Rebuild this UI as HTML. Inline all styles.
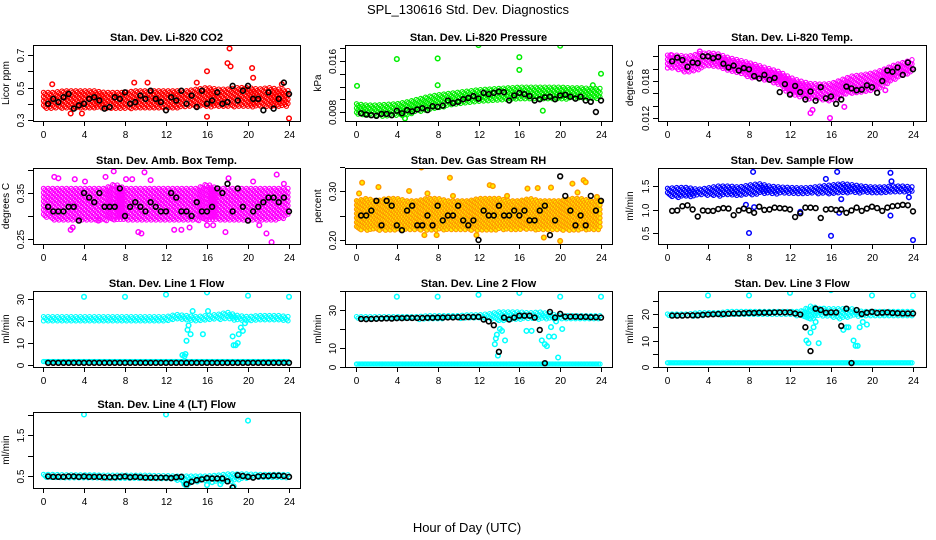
<!DOCTYPE html>
<html><head><meta charset="utf-8"><style>
html,body{margin:0;padding:0;background:#fff;}
svg{display:block;font-family:"Liberation Sans",sans-serif;}
</style></head><body>
<svg id="chart" width="936" height="540" viewBox="0 0 936 540">
<rect x="0" y="0" width="936" height="540" fill="#fff"/>
<text x="468" y="14" text-anchor="middle" font-size="13">SPL_130616  Std. Dev. Diagnostics</text>
<text x="467" y="532" text-anchor="middle" font-size="13">Hour of Day (UTC)</text>
</svg>
<script>
// ---------- data ----------
const hourTicks = [0,4,8,12,16,20,24];
const bandHours = [0,1,2,3,4,5,6,7,8,9,10,11,12,13,14,15,16,17,18,19,20,21,22,23,24];
const blackHours = [0.5,1,1.5,2,2.5,3,3.5,4,4.5,5,5.5,6,6.5,7,7.5,8,8.5,9,9.5,10,10.5,11,11.5,12,12.5,13,13.5,14,14.5,15,15.5,16,16.5,17,17.5,18,18.5,19,19.5,20,20.5,21,21.5,22,22.5,23,23.5,24];

// CO2
const co2Lo = [0.37,0.37,0.37,0.37,0.37,0.37,0.37,0.37,0.37,0.37,0.37,0.37,0.37,0.37,0.38,0.38,0.38,0.38,0.38,0.38,0.38,0.38,0.38,0.38,0.38];
const co2Hi = [0.47,0.47,0.48,0.48,0.48,0.48,0.47,0.47,0.47,0.48,0.48,0.48,0.48,0.48,0.48,0.49,0.50,0.49,0.49,0.50,0.50,0.49,0.50,0.49,0.48];
const co2OutX = [18.2,18.0,18.3,16.0,20.4,20.5,16.0,24.0,2.7,15.0,0.9,8.9,10.2,23.3,3.8];
const co2OutY = [0.74,0.65,0.63,0.60,0.62,0.56,0.32,0.31,0.34,0.53,0.52,0.53,0.53,0.52,0.34];
const co2Black = [0.40,0.43,0.41,0.44,0.46,0.37,0.39,0.40,0.43,0.44,0.42,0.37,0.38,0.44,0.43,0.47,0.40,0.41,0.45,0.43,0.48,0.43,0.41,0.36,0.44,0.42,0.48,0.40,0.45,0.38,0.48,0.40,0.42,0.47,0.40,0.41,0.51,0.42,0.48,0.51,0.43,0.43,0.36,0.47,0.37,0.43,0.53,0.46];
// Pressure
const presLo = [0.0077,0.0075,0.0074,0.0073,0.0073,0.0074,0.0080,0.0083,0.0086,0.0089,0.0092,0.0094,0.0096,0.0097,0.0098,0.0099,0.0100,0.0100,0.0100,0.0100,0.0100,0.0100,0.0100,0.0100,0.0100];
const presHi = [0.0093,0.0091,0.0091,0.0092,0.0093,0.0096,0.0100,0.0104,0.0107,0.0109,0.0111,0.0113,0.0115,0.0116,0.0117,0.0118,0.0119,0.0119,0.0119,0.0119,0.0119,0.0118,0.0118,0.0117,0.0117];
const presOutX = [0.1,4.0,8.0,8.0,12.0,16.0,16.0,20.0,24.0,23.2,4.8,18.3];
const presOutY = [0.0121,0.0163,0.0164,0.0122,0.0185,0.0166,0.0146,0.0184,0.0140,0.0122,0.0070,0.0082];
const presBlack = [0.0078,0.0076,0.0075,0.0074,0.0077,0.0077,0.0075,0.0082,0.0078,0.0083,0.0081,0.0084,0.0086,0.0083,0.0089,0.0088,0.0090,0.0098,0.0094,0.0096,0.0100,0.0102,0.0105,0.0101,0.0110,0.0108,0.0110,0.0112,0.0111,0.0098,0.0106,0.0110,0.0108,0.0105,0.0098,0.0100,0.0103,0.0104,0.0100,0.0106,0.0107,0.0104,0.0101,0.0104,0.0098,0.0096,0.0080,0.0098];
// Li-820 temp
const tempLo = [0.0200,0.0198,0.0193,0.0197,0.0205,0.0203,0.0197,0.0192,0.0186,0.0183,0.0180,0.0172,0.0158,0.0153,0.0150,0.0150,0.0146,0.0155,0.0160,0.0161,0.0163,0.0170,0.0180,0.0188,0.0195];
const tempHi = [0.0222,0.0222,0.0220,0.0224,0.0226,0.0224,0.0218,0.0214,0.0210,0.0205,0.0200,0.0195,0.0186,0.0180,0.0176,0.0175,0.0176,0.0182,0.0188,0.0190,0.0193,0.0198,0.0205,0.0210,0.0215];
const tempOutX = [14.0,14.2,15.9,17.3,21.3,0.4,3.2];
const tempOutY = [0.0128,0.0133,0.0120,0.0138,0.0165,0.0222,0.0228];
const tempBlack = [0.0212,0.0218,0.0214,0.0203,0.0210,0.0209,0.0220,0.0220,0.0217,0.0219,0.0208,0.0202,0.0205,0.0197,0.0201,0.0199,0.0188,0.0184,0.0190,0.0182,0.0185,0.0162,0.0175,0.0158,0.0172,0.0162,0.0150,0.0163,0.0148,0.0170,0.0152,0.0155,0.0143,0.0150,0.0171,0.0168,0.0165,0.0166,0.0173,0.0170,0.0161,0.0180,0.0197,0.0195,0.0202,0.0190,0.0210,0.0199];
// Amb box temp
const ambLo = [0.30,0.29,0.29,0.29,0.29,0.29,0.29,0.29,0.29,0.29,0.29,0.29,0.29,0.29,0.29,0.29,0.29,0.29,0.29,0.29,0.29,0.29,0.29,0.29,0.30];
const ambHi = [0.36,0.36,0.36,0.36,0.36,0.36,0.36,0.37,0.36,0.36,0.36,0.36,0.36,0.36,0.36,0.36,0.37,0.36,0.36,0.36,0.36,0.36,0.36,0.36,0.36];
const ambOutX = [1.1,1.5,2.7,2.9,4.1,6.1,6.9,8.1,8.7,9.3,9.6,9.9,10.5,12.8,14.3,16.0,16.6,17.8,18.1,20.5,21.1,21.8,22.3,22.8,23.5,3.1,13.5,5.4];
const ambOutY = [0.385,0.382,0.27,0.275,0.375,0.385,0.397,0.38,0.38,0.265,0.262,0.395,0.378,0.27,0.275,0.28,0.28,0.265,0.382,0.375,0.28,0.262,0.243,0.39,0.37,0.38,0.27,0.29];
const ambBlack = [0.32,0.31,0.31,0.31,0.32,0.32,0.29,0.35,0.34,0.33,0.35,0.32,0.32,0.32,0.36,0.30,0.32,0.33,0.32,0.31,0.33,0.32,0.31,0.31,0.35,0.34,0.31,0.31,0.30,0.33,0.31,0.31,0.32,0.36,0.35,0.37,0.31,0.36,0.32,0.29,0.31,0.32,0.33,0.34,0.34,0.33,0.34,0.31];
// Gas RH
const rhLo = [0.22,0.22,0.22,0.22,0.22,0.22,0.22,0.22,0.22,0.22,0.22,0.22,0.22,0.22,0.22,0.22,0.22,0.22,0.22,0.22,0.22,0.22,0.22,0.22,0.22];
const rhHi = [0.28,0.285,0.28,0.285,0.285,0.28,0.28,0.285,0.285,0.28,0.28,0.28,0.285,0.285,0.285,0.28,0.28,0.285,0.28,0.28,0.28,0.285,0.285,0.28,0.28];
const rhOutX = [0.3,0.6,2.2,6.4,6.7,7.0,9.2,9.5,13.1,13.4,14.8,16.8,17.8,19.1,18.4,20.0,21.2,21.7,22.3,22.5,23.6,7.9,11.8,5.2];
const rhOutY = [0.295,0.317,0.308,0.348,0.21,0.295,0.327,0.29,0.312,0.31,0.29,0.305,0.306,0.307,0.205,0.198,0.315,0.297,0.322,0.318,0.288,0.21,0.21,0.30];
const rhBlack = [0.25,0.25,0.26,0.28,0.23,0.28,0.27,0.23,0.22,0.26,0.27,0.23,0.23,0.25,0.23,0.27,0.24,0.25,0.25,0.27,0.24,0.23,0.24,0.20,0.26,0.25,0.25,0.27,0.25,0.25,0.26,0.25,0.26,0.24,0.24,0.26,0.27,0.21,0.24,0.33,0.29,0.26,0.23,0.25,0.23,0.29,0.26,0.28];
// Sample flow
const sfLo = [1.30,1.25,1.27,1.28,1.30,1.28,1.30,1.30,1.30,1.33,1.33,1.33,1.32,1.33,1.33,1.33,1.33,1.35,1.35,1.35,1.35,1.35,1.35,1.35,1.35];
const sfHi = [1.45,1.47,1.47,1.43,1.46,1.50,1.50,1.48,1.52,1.55,1.50,1.48,1.47,1.46,1.47,1.50,1.52,1.55,1.53,1.50,1.48,1.48,1.50,1.50,1.48];
const sfOutX = [8.0,8.4,8.5,7.7,13.0,16.0,16.6,16.8,17.0,21.8,21.8,21.9,24.0,15.5,23.6];
const sfOutY = [0.50,1.80,1.05,1.10,0.95,0.44,1.80,0.93,1.22,1.78,0.87,1.60,0.35,1.65,1.26];
const sfBlack = [0.97,0.98,1.07,1.09,1.00,0.85,0.98,0.97,0.97,1.01,1.03,1.02,0.88,0.98,1.02,0.98,0.93,1.06,0.99,1.00,1.04,1.03,1.02,1.00,0.84,0.92,1.04,1.04,1.03,0.82,1.00,1.01,0.99,1.00,0.93,0.98,1.04,0.97,1.02,1.06,1.03,0.97,1.04,1.07,1.08,1.10,1.09,0.96];
// Line 1
const l1Lo = [20,20,20,20,20,20,20,20,20,20,20,20,20,20.5,20,20,20,20.5,21,20,20,20,20,20,20];
const l1Hi = [22,22,22,22,22,22,22,22,22,22,22,22,22,23,22.5,22,22.5,23,24,22.5,22,22.5,22.5,22.5,22];
const l1OutX = [4,8,12,16,20,24,13.6,13.8,13.9,14.0,14.1,14.2,14.4,14.6,15.6,16.1,18.5,18.6,18.8,19.0,19.1,19.3,19.5,19.7];
const l1OutY = [31,31,32,33,31.5,31,4.5,4,5,11,16,18,14,24.5,14,24.5,13,9,9,10,14,17,15.5,19];
const l1Black = [1,1,1,1,1,1,1,1,1,1,1,1,1,1,1,1,1,1,1,1,1,1,1,1,1,1,1,1,1,1,1,1,1,1,1,1,1,1,1,1,1,1,1,1,1,1,1,1];
// Line 2
const l2Lo = [25,25,25,25,25,25,25,25,25,25.5,25.5,25.5,25.5,25.5,24,25,25,25,25,25,25,25,25,25,25];
const l2Hi = [26.5,26.5,26.5,26.5,26.5,26.5,26.5,27,27,27,27,27.5,27.5,28,29,29,29,28.5,29,28,27,27,27,27,27];
const l2OutX = [4,8,12,16,20,24,13.6,13.7,13.8,13.9,14.1,14.3,14.6,15.4,16.7,17.2,18.2,18.5,18.7,18.9,19.1,19.4,19.6,19.8,20.2];
const l2OutY = [37,37,38,39,37,37,12,15,17,6,20,19,14,26,19,19,14,12,11,16,21,16,24,5,20];
const l2Black = [25.3,25.2,25.3,25.4,25.5,25.6,25.5,25.7,25.7,25.8,25.8,25.8,25.8,25.9,25.9,26,26,26.1,26.1,26.2,26.2,26.3,26.3,26.4,25,24,22,8,26,25,26,27,27,27,26,19.5,2,29,26,28,26.5,26.5,26.5,26.4,26.4,26.2,26.2,26];
// Line 3
const l3Lo = [19,19,19,19,19.5,19.5,19.5,19.5,19.5,19.5,19.5,19.5,19.5,19,18,19,19,18,19,19,19,19,19,19,19];
const l3Hi = [20,20,20,20.5,20.5,20.5,21,21,21,21,21,21,21,21,23,22,22,22,22,21,21,21,21,21,21];
const l3OutX = [4,8,12,16,20,24,13.6,13.8,14.0,14.3,14.5,14.8,15.3,17.2,17.5,17.7,18.2,18.4,18.6,18.8,19.1,19.5];
const l3OutY = [27,27,28,29,27,27,10,9,13,15,17,9,22,14,15,15,10,8,8,15,17,16];
const l3Black = [19.4,19.4,19.4,19.5,19.5,19.5,19.7,19.8,19.9,20,20,20.1,20.2,20.2,20.3,20.4,20.4,20.5,20.5,20.5,20.6,20.6,20.6,20.6,20.2,19.8,15,6,22,21.5,20.5,20.6,20.6,15.5,22,1.5,21.5,20,20.5,20.8,20.4,20.5,20.6,20.4,20.3,20.2,20.2,20.2];
// Line 4
const l4Lo = [0.45,0.45,0.45,0.45,0.45,0.45,0.44,0.44,0.44,0.44,0.44,0.43,0.43,0.40,0.30,0.35,0.38,0.35,0.35,0.40,0.45,0.45,0.45,0.45,0.45];
const l4Hi = [0.54,0.54,0.53,0.53,0.53,0.53,0.52,0.52,0.52,0.52,0.52,0.51,0.51,0.50,0.50,0.50,0.50,0.52,0.55,0.55,0.55,0.54,0.54,0.54,0.53];
const l4OutX = [4,12,20,13.8,14.0,16.0,16.5,17.3,18.6];
const l4OutY = [2.0,2.0,1.85,0.30,0.25,0.28,0.35,0.30,0.25];
const l4Black = [0.49,0.48,0.48,0.48,0.49,0.49,0.48,0.49,0.48,0.48,0.48,0.47,0.47,0.47,0.48,0.49,0.47,0.48,0.47,0.46,0.46,0.46,0.46,0.46,0.45,0.47,0.48,0.30,0.36,0.40,0.42,0.45,0.44,0.44,0.44,0.37,0.22,0.52,0.50,0.48,0.46,0.49,0.50,0.50,0.51,0.51,0.50,0.48];

// ---------- layout ----------
const NS = "http://www.w3.org/2000/svg";
const svg = document.getElementById('chart');
const cols = [{left:33,right:300,x0:43,x24:289,ylab:9},{left:345,right:612,x0:356,x24:601,ylab:321},{left:658,right:926,x0:667,x24:913,ylab:633}];
const rows = [45,168,291,412];
const panels = [
 {name:'co2',title:'Stan. Dev. Li-820 CO2',yl:'Licor ppm',c:0,r:0,v1:0.3,p1:120,v2:0.7,p2:55,ticks:[0.3,0.4,0.5,0.6,0.7],labels:['0.3','','0.5','','0.7'],col:'#ff0000',lo:co2Lo,hi:co2Hi,ox:co2OutX,oy:co2OutY,bk:co2Black},
 {name:'pressure',title:'Stan. Dev. Li-820 Pressure',yl:'kPa',c:1,r:0,v1:0.008,p1:112,v2:0.016,p2:61,ticks:[0.006,0.008,0.010,0.012,0.014,0.016,0.018],labels:['','0.008','','','','0.016',''],col:'#00ee00',lo:presLo,hi:presHi,ox:presOutX,oy:presOutY,bk:presBlack},
 {name:'li820-temp',title:'Stan. Dev. Li-820 Temp.',yl:'degrees C',c:2,r:0,v1:0.012,p1:118,v2:0.018,p2:81,ticks:[0.012,0.014,0.016,0.018,0.020,0.022],labels:['0.012','','','0.018','',''],col:'#ff00ff',lo:tempLo,hi:tempHi,ox:tempOutX,oy:tempOutY,bk:tempBlack},
 {name:'amb-box-temp',title:'Stan. Dev. Amb. Box Temp.',yl:'degrees C',c:0,r:1,v1:0.25,p1:239,v2:0.35,p2:193,ticks:[0.25,0.30,0.35,0.40],labels:['0.25','','0.35',''],col:'#ff00ff',lo:ambLo,hi:ambHi,ox:ambOutX,oy:ambOutY,bk:ambBlack},
 {name:'gas-rh',title:'Stan. Dev. Gas Stream RH',yl:'percent',c:1,r:1,v1:0.20,p1:240,v2:0.30,p2:191,ticks:[0.20,0.25,0.30,0.35],labels:['0.20','','0.30',''],col:'#ff9900',fill:'#ffee00',lo:rhLo,hi:rhHi,ox:rhOutX,oy:rhOutY,bk:rhBlack},
 {name:'sample-flow',title:'Stan. Dev. Sample Flow',yl:'ml/min',c:2,r:1,v1:0.5,p1:233,v2:1.5,p2:186,ticks:[0.5,1.0,1.5],labels:['0.5','1.0','1.5'],col:'#0000ff',lo:sfLo,hi:sfHi,ox:sfOutX,oy:sfOutY,bk:sfBlack},
 {name:'line1-flow',title:'Stan. Dev. Line 1 Flow',yl:'ml/min',c:0,r:2,v1:0,p1:365,v2:30,p2:299,ticks:[0,10,20,30],labels:['0','10','20','30'],col:'#00ffff',lo:l1Lo,hi:l1Hi,ox:l1OutX,oy:l1OutY,bk:l1Black,base:true},
 {name:'line2-flow',title:'Stan. Dev. Line 2 Flow',yl:'ml/min',c:1,r:2,v1:0,p1:367,v2:30,p2:310,ticks:[0,10,20,30,40],labels:['0','10','','30',''],col:'#00ffff',lo:l2Lo,hi:l2Hi,ox:l2OutX,oy:l2OutY,bk:l2Black,base:true},
 {name:'line3-flow',title:'Stan. Dev. Line 3 Flow',yl:'ml/min',c:2,r:2,v1:0,p1:367,v2:20,p2:314,ticks:[0,5,10,15,20,25],labels:['0','','10','','20',''],col:'#00ffff',lo:l3Lo,hi:l3Hi,ox:l3OutX,oy:l3OutY,bk:l3Black,base:true},
 {name:'line4-flow',title:'Stan. Dev. Line 4 (LT) Flow',yl:'ml/min',c:0,r:3,v1:0.5,p1:476,v2:1.5,p2:435,ticks:[0.5,1.0,1.5,2.0],labels:['0.5','','1.5',''],col:'#00ffff',lo:l4Lo,hi:l4Hi,ox:l4OutX,oy:l4OutY,bk:l4Black}
];
const baseLo = 0.4, baseHi = 1.6;

function mk(tag, attrs, parent){
  const e = document.createElementNS(NS, tag);
  for (const k in attrs) e.setAttribute(k, attrs[k]);
  parent.appendChild(e);
  return e;
}
function interp(arr, h){
  const i = Math.min(23, Math.floor(h));
  const f = h - i;
  return arr[i]*(1-f) + arr[i+1]*f;
}

panels.forEach(p => {
  const C = cols[p.c], top = rows[p.r], bot = top + 76;
  const xs = h => C.x0 + (C.x24 - C.x0) * h / 24;
  const ys = v => p.p1 + (v - p.v1) * (p.p2 - p.p1) / (p.v2 - p.v1);
  const g = mk('g', {}, svg);
  
  
  const clip = mk('clipPath', {id: 'clip-' + p.name}, g);
  mk('rect', {x: C.left, y: top, width: C.right - C.left, height: bot - top}, clip);
  const marks = mk('g', {'clip-path': 'url(#clip-' + p.name + ')'}, g);
  
  
  const fillc = p.fill || 'none';
  const stroke = p.col;
  const cloud = mk('g', {fill: fillc, stroke: stroke, 'stroke-width': 1.1}, marks);
  
  
  let k = 0;
  for (let h = 0.05; h <= 24; h += 0.15) {
    const ya = ys(interp(p.lo, h)), yb = ys(interp(p.hi, h));
    const y1 = Math.min(ya, yb), y2 = Math.max(ya, yb);
    const off = (k % 3) * 1.5;
    for (let y = y1 + off; y <= y2; y += 4.3) {
      mk('circle', {cx: xs(h).toFixed(1), cy: y.toFixed(1), r: 2.1}, cloud);
    }
    if (p.base) {
      const b1 = ys(baseHi), b2 = ys(baseLo);
      for (let y = b1; y <= b2; y += 3.5) mk('circle', {cx: xs(h).toFixed(1), cy: y.toFixed(1), r: 2.1}, cloud);
    }
    k++;
  }
  p.ox.forEach((h, i) => {
    const c = mk('circle', {cx: xs(h), cy: ys(p.oy[i]), r: 2.3, fill: fillc, stroke: stroke, 'stroke-width': 1.5}, marks);
    
    
  });
  p.bk.forEach((v, i) => {
    const c = mk('circle', {cx: xs(blackHours[i]), cy: ys(v), r: 2.4, fill: 'none', stroke: '#000', 'stroke-width': 1.6}, marks);
    
    
  });
  const fr = mk('rect', {x: C.left + 0.5, y: top + 0.5, width: C.right - C.left, height: bot - top, fill: 'none', stroke: '#000', 'stroke-width': 1}, g);
  
  
  hourTicks.forEach(h => {
    const x = Math.round(xs(h)) + 0.5;
    mk('line', {x1: x, x2: x, y1: bot, y2: bot + 5, stroke: '#000'}, g);
    const t = mk('text', {x: x, y: bot + 17, 'text-anchor': 'middle', 'font-size': 10}, g);
    t.textContent = h;
    
    
  });
  p.ticks.forEach((v, i) => {
    const y = Math.round(ys(v)) + 0.5;
    if (y < top - 1 || y > bot + 2) return;
    mk('line', {x1: C.left - 5, x2: C.left, y1: y, y2: y, stroke: '#000'}, g);
    if (p.labels[i]) {
      const tx = C.left - 9;
      const t = mk('text', {x: tx, y: y, 'text-anchor': 'middle', 'font-size': 10, transform: 'rotate(-90 ' + tx + ' ' + y + ')'}, g);
      t.textContent = p.labels[i];
      
      
    }
  });
  const my = (top + bot) / 2;
  const yl = mk('text', {x: C.ylab, y: my, 'text-anchor': 'middle', 'font-size': 10, transform: 'rotate(-90 ' + C.ylab + ' ' + my + ')'}, g);
  yl.textContent = p.yl;
  
  
  const tt = mk('text', {x: (C.left + C.right) / 2, y: top - 4, 'text-anchor': 'middle', 'font-size': 11, 'font-weight': 'bold'}, g);
  tt.textContent = p.title;
  
  
});
</script>
</body></html>
